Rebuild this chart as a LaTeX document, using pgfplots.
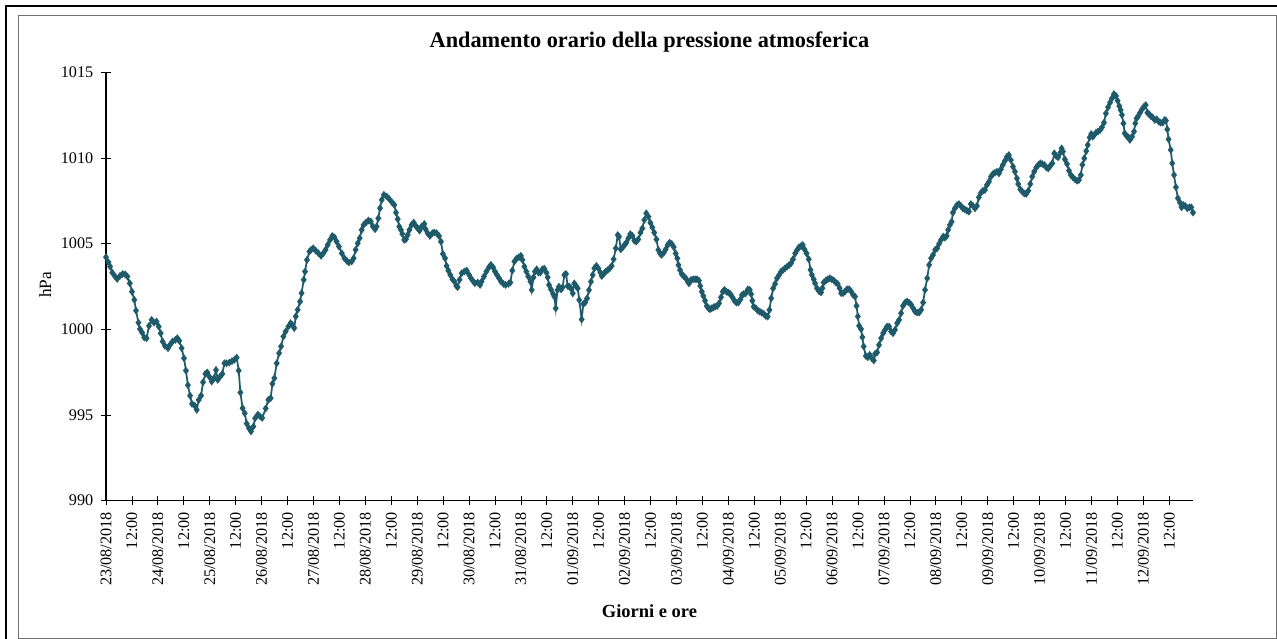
\documentclass[border=0pt]{standalone}
\usepackage{pgfplots}
\pgfplotsset{compat=1.18}
\usepackage{fontspec}
\setmainfont{Liberation Serif}
\definecolor{serie}{HTML}{1E5A6A}
\definecolor{cornice}{HTML}{707070}
\begin{document}
\begin{tikzpicture}
\path[use as bounding box] (0bp,0bp) rectangle (957.75bp,-479.25bp);
% frame
\draw[cornice, line width=0.75bp] (13.5bp,-11.25bp) -- (957.75bp,-11.25bp);
\draw[cornice, line width=0.75bp] (13.5bp,-11.25bp) -- (13.5bp,-478.7bp) -- (957.75bp,-478.7bp);
\draw[cornice, line width=0.75bp] (957bp,-11.25bp) -- (957bp,-478.7bp);
\draw[black, line width=1.8bp] (4.65bp,-479.25bp) -- (4.65bp,-4.65bp) -- (957.75bp,-4.65bp);
\begin{axis}[
  at={(79.5bp,-375.5bp)}, anchor=south west,
  scale only axis, width=815.25bp, height=321.3bp,
  xmin=0, xmax=503, ymin=990, ymax=1015,
  axis lines=left,
  axis line style={-, line width=0.8bp, black},
  xtick={0,12,...,492},
  xticklabels={23/08/2018,12:00,24/08/2018,12:00,25/08/2018,12:00,26/08/2018,12:00,27/08/2018,12:00,28/08/2018,12:00,29/08/2018,12:00,30/08/2018,12:00,31/08/2018,12:00,01/09/2018,12:00,02/09/2018,12:00,03/09/2018,12:00,04/09/2018,12:00,05/09/2018,12:00,06/09/2018,12:00,07/09/2018,12:00,08/09/2018,12:00,09/09/2018,12:00,10/09/2018,12:00,11/09/2018,12:00,12/09/2018,12:00},
  ytick={990,995,1000,1005,1010,1015},
  tick align=center, major tick length=6.75bp,
  tick style={line width=0.6bp, black},
  xticklabel style={rotate=90, anchor=east, inner sep=0pt, xshift=-5bp, font=\fontsize{12.2}{13}\selectfont},
  yticklabel style={anchor=east, inner sep=0pt, xshift=-6bp, font=\fontsize{12.2}{13}\selectfont},
  /pgf/number format/assume math mode=true,
  /pgf/number format/1000 sep={},
  clip=false,
]
\addplot[serie, line width=1.3bp, mark=diamond*, mark size=1.9bp, mark options={serie}] coordinates {
(0,1004.21)(1.1,1003.91)(1.9,1003.66)(2.9,1003.31)(4.2,1003.08)(5.2,1002.94)(6.5,1003.12)(7.7,1003.23)(8.9,1003.21)(9.9,1003.08)(11,1002.69)(12,1002.2)(13.1,1001.72)(13.9,1001.09)(15,1000.39)(15.7,1000.02)(16.7,999.81)(17.7,999.52)(18.8,999.48)(19.9,1000.2)(21.1,1000.55)(22.2,1000.39)(23.4,1000.45)(24.4,1000.16)(25.3,999.77)(26.2,999.29)(27.3,999.03)(28.7,998.9)(29.6,999.09)(30.8,999.29)(32.1,999.38)(33,999.48)(33.9,999.33)(35,998.9)(36.1,998.31)(37,997.59)(37.9,996.74)(38.9,996.13)(39.8,995.65)(41,995.55)(42,995.3)(42.9,995.88)(44,996.13)(44.9,996.91)(46,997.4)(46.9,997.48)(47.8,997.24)(48.9,996.95)(50,997.15)(50.9,997.63)(51.7,997.05)(52.8,997.24)(53.8,997.4)(54.8,998.02)(55.8,998.02)(57.1,998.06)(58.3,998.14)(59.4,998.22)(60.5,998.35)(61.4,997.59)(62.2,996.31)(63.2,995.4)(64.2,995.1)
(65.1,994.5)(66.2,994.23)(67.1,994.04)(68.2,994.33)(69,994.81)(70.3,995.03)(71.3,994.91)(72.3,994.83)(73.9,995.38)(75.1,995.88)(76.2,995.98)(77,996.82)(77.9,997.15)(79,998.02)(80.1,998.61)(81,999.0)(82.1,999.58)(83.1,999.87)(84.4,1000.16)(85.4,1000.36)(86.2,1000.26)(87.1,1000.07)(87.8,1000.75)(88.7,1001.14)(89.8,1001.62)(90.5,1002.11)(91.5,1002.89)(92.1,1003.37)(93,1004.05)(94.1,1004.54)(94.9,1004.64)(95.9,1004.73)(97,1004.6)(98.3,1004.44)(99.5,1004.29)(100.6,1004.44)(101.6,1004.64)(102.6,1004.93)(103.7,1005.22)(104.7,1005.45)(105.7,1005.37)(106.7,1005.12)(107.8,1004.83)(109.1,1004.44)(110.3,1004.15)(111.4,1004.0)(112.4,1003.9)(113.7,1003.96)(114.6,1004.15)(115.5,1004.64)(116.5,1005.02)(117.4,1005.32)(118.3,1005.8)(119.2,1006.09)(120.3,1006.23)(121.4,1006.35)(122.5,1006.29)(123.5,1006.0)(124.5,1005.84)(125.2,1006.0)(126,1006.48)(126.8,1007.07)(127.6,1007.55)(128.6,1007.85)
(129.9,1007.75)(131.1,1007.6)(132.4,1007.4)(133.4,1007.26)(134.2,1006.81)(135,1006.43)(135.7,1006.0)(136.5,1005.8)(137.1,1005.57)(138,1005.22)(138.8,1005.26)(139.6,1005.51)(140.4,1005.8)(141.4,1006.09)(142.4,1006.23)(143.3,1006.04)(144.2,1005.9)(145.1,1005.76)(146.1,1006.0)(147.3,1006.15)(147.9,1005.84)(148.8,1005.61)(149.9,1005.45)(151,1005.61)(151.9,1005.65)(153,1005.61)(154.1,1005.45)(155,1005.12)(155.9,1004.4)(156.9,1004.15)(157.6,1003.7)(158.4,1003.43)(159.3,1003.18)(160.3,1002.92)(161.2,1002.79)(162.1,1002.54)(162.7,1002.46)(163.6,1002.89)(164.6,1003.27)(165.8,1003.37)(166.9,1003.43)(168,1003.18)(168.9,1002.98)(170,1002.79)(170.7,1002.69)(172,1002.73)(173.1,1002.59)(173.8,1002.79)(174.9,1003.08)(176,1003.37)(177.2,1003.62)(178.1,1003.76)(179.1,1003.62)(180,1003.37)(180.9,1003.18)(181.9,1002.98)(182.8,1002.79)(183.9,1002.65)(184.9,1002.59)(186.2,1002.65)(187.1,1002.73)(188,1003.43)(189,1003.96)(190,1004.13)(191.1,1004.21)(192,1004.29)(192.7,1004.05)(193.6,1003.66)(194.5,1003.37)(195.4,1003.08)(196.4,1002.79)(197,1002.3)(197.8,1003.03)
(198.5,1003.37)(199.3,1003.5)(200.1,1003.31)(201,1003.31)(201.9,1003.5)(202.8,1003.54)(203.8,1003.31)(204.4,1003.03)(205,1002.59)(205.9,1002.33)(206.9,1002.06)(207.5,1001.91)(208.1,1001.23)(208.9,1002.29)(209.6,1002.49)(210.6,1002.33)(211.3,1002.45)(212.1,1003.17)(212.9,1003.23)(213.6,1002.53)(214.4,1002.49)(215.2,1002.39)(216,1002.1)(216.7,1002.68)(217.5,1002.53)(218.3,1002.39)(219,1001.71)(220.1,1000.58)(220.9,1001.48)(221.7,1001.56)(222.6,1001.81)(223.5,1002.29)(224.4,1002.78)(225.2,1003.17)(226,1003.56)(226.9,1003.7)(227.8,1003.56)(228.8,1003.31)(229.4,1003.11)(230.3,1003.23)(231.2,1003.37)(232.2,1003.46)(233.1,1003.56)(234,1003.7)(234.9,1004.09)(235.9,1004.73)(236.8,1005.5)(237.4,1005.41)(238.2,1004.67)(239.1,1004.78)(239.9,1004.92)(240.8,1005.06)(241.7,1005.31)(242.6,1005.56)(243.6,1005.45)(244.5,1005.17)(245.4,1005.12)(246.3,1005.25)(247.3,1005.64)(248.2,1005.89)(249.1,1006.38)(250,1006.77)(251,1006.57)(251.9,1006.22)(252.8,1005.95)(253.7,1005.64)(254.7,1005.25)(255.6,1004.63)(256.4,1004.43)(257.1,1004.34)(258.1,1004.47)
(259,1004.67)(259.9,1004.92)(260.8,1005.06)(261.8,1004.98)(262.7,1004.8)(263.6,1004.43)(264.4,1004.14)(264.9,1003.75)(265.6,1003.46)(266.4,1003.23)(267.3,1003.11)(268.3,1002.98)(269.2,1002.78)(269.8,1002.68)(270.7,1002.88)(271.7,1002.92)(272.6,1002.92)(273.5,1002.92)(274.4,1002.84)(275,1002.53)(275.7,1002.2)(276.4,1001.95)(277.2,1001.67)(278,1001.36)(278.8,1001.23)(279.5,1001.17)(280.3,1001.23)(281.1,1001.28)(281.8,1001.32)(282.8,1001.36)(283.7,1001.52)(284.6,1001.87)(285.4,1002.2)(286.2,1002.3)(287.1,1002.2)(288,1002.14)(288.9,1002.06)(289.9,1001.87)(290.8,1001.67)(291.7,1001.56)(292.6,1001.56)(293.6,1001.75)(294.3,1002.0)(295.1,1002.06)(296,1002.1)(297,1002.33)(297.9,1002.3)(298.5,1002.06)(299.1,1001.67)(299.7,1001.32)(300.7,1001.23)(301.6,1001.09)(302.5,1001.03)(303.4,1000.97)(304.4,1000.9)(305.3,1000.78)(306.2,1000.74)(307,1001.13)(307.8,1001.81)(308.7,1002.39)(309.6,1002.65)(310.5,1002.98)(311.5,1003.17)(312.4,1003.37)(313.3,1003.46)(314.2,1003.56)(315.2,1003.66)(316.1,1003.75)(317,1003.85)(317.9,1004.09)(318.9,1004.43)(319.8,1004.63)(320.7,1004.79)(321.6,1004.86)(322.4,1004.92)(323.2,1004.67)
(324.2,1004.43)(325.2,1004.09)(326,1003.47)(326.6,1003.18)(327.5,1002.92)(328.1,1002.69)(329,1002.4)(330,1002.21)(330.9,1002.15)(331.5,1002.4)(332.1,1002.73)(333.1,1002.85)(334,1002.92)(334.9,1002.98)(335.8,1002.92)(336.8,1002.85)(337.7,1002.73)(338.6,1002.65)(339.5,1002.4)(340.2,1002.11)(341.1,1002.11)(342,1002.21)(342.9,1002.34)(343.9,1002.34)(344.8,1002.21)(345.7,1002.01)(346.6,1001.91)(347.3,1001.37)(347.9,1000.75)(348.5,1000.2)(349.4,1000.01)(350,999.54)(350.6,999.0)(351.6,998.45)(352.5,998.37)(353.4,998.51)(354.3,998.32)(355.3,998.18)(355.9,998.57)(356.8,998.65)(357.7,999.09)(358.7,999.48)(359.6,999.77)(360.5,999.97)(361.4,1000.16)(362.4,1000.16)(363.3,999.87)(364.2,999.77)(365.1,999.97)(366.1,1000.36)(367,1000.55)(367.9,1000.94)(368.8,1001.37)(369.8,1001.56)(370.7,1001.62)(371.6,1001.56)(372.6,1001.43)(373.5,1001.23)(374.4,1001.04)(375.3,1000.98)(376.3,1000.98)(377.2,1001.14)(378.1,1001.56)(379,1002.3)(380,1002.98)(380.9,1003.76)(381.8,1004.15)(382.7,1004.34)(383.7,1004.64)(384.6,1004.73)(385.5,1004.99)(386.4,1005.22)(387.4,1005.41)
(388.2,1005.35)(389,1005.45)(389.7,1005.8)(390.5,1006.09)(391.3,1006.28)(391.9,1006.81)(392.8,1007.06)(393.8,1007.25)(394.7,1007.31)(395.6,1007.2)(396.5,1007.06)(397.4,1007.0)(398.4,1006.92)(399.3,1006.87)(400.2,1007.31)(401.2,1007.2)(402.1,1007.06)(403,1007.2)(403.9,1007.7)(404.9,1007.97)(405.8,1008.09)(406.7,1008.13)(407.6,1008.42)(408.6,1008.62)(409.5,1008.91)(410.4,1009.06)(411.3,1009.14)(412.3,1009.2)(413.2,1009.1)(414.1,1009.34)(415,1009.59)(416,1009.84)(416.9,1010.07)(417.8,1010.17)(418.7,1009.88)(419.7,1009.49)(420.6,1009.2)(421.5,1008.81)(422.1,1008.48)(423.1,1008.17)(424,1008.03)(424.9,1007.93)(425.8,1007.9)(426.8,1008.09)(427.7,1008.48)(428.6,1008.91)(429.5,1009.2)(430.5,1009.45)(431.4,1009.59)(432.3,1009.69)(433.2,1009.65)(434.2,1009.59)(435.1,1009.45)(436,1009.39)(436.9,1009.53)(437.9,1009.69)(438.8,1010.27)(439.7,1010.11)(440.6,1010.04)(441.6,1010.31)(442.2,1010.56)(442.8,1010.37)(443.7,1009.92)(444.7,1009.65)(445.6,1009.26)(446.5,1009.0)(447.4,1008.87)(448.4,1008.75)(449.3,1008.67)(450.2,1008.71)
(451.1,1009.0)(451.8,1009.6)(452.7,1009.98)(453.6,1010.4)(454.3,1010.76)(455.2,1011.2)(455.9,1011.4)(456.6,1011.24)(457.3,1011.34)(458.1,1011.48)(459,1011.54)(460,1011.63)(460.9,1011.79)(461.8,1012.06)(462.7,1012.6)(463.7,1012.96)(464.6,1013.23)(465.5,1013.48)(466.4,1013.73)(467.4,1013.62)(468.1,1013.34)(468.9,1013.03)(469.5,1012.8)(470.1,1012.51)(470.8,1012.02)(471.4,1011.44)(472.3,1011.28)(473.2,1011.2)(473.8,1011.05)(474.8,1011.24)(475.7,1011.54)(476.3,1012.02)(476.9,1012.31)(477.7,1012.45)(478.5,1012.64)(479.4,1012.84)(480.3,1012.99)(481.1,1013.09)(481.9,1012.64)(482.6,1012.57)(483.4,1012.45)(484.3,1012.37)(485.3,1012.22)(486.2,1012.26)(487.1,1012.12)(488,1012.06)(489,1012.06)(489.9,1012.22)(490.5,1012.18)(491.1,1011.67)(491.7,1011.09)(492.7,1010.47)(493.4,1009.69)(494.2,1009.01)(495.1,1008.29)(496,1007.65)(497,1007.39)(497.7,1007.12)(498.5,1007.26)(499.4,1007.2)(500.4,1007.06)(501.3,1007.12)(502.2,1007.12)(503,1006.81)
};
\end{axis}
\node[anchor=base, font=\bfseries\fontsize{16.8}{20}\selectfont, inner sep=0pt] at (487.1bp,-35.25bp) {Andamento orario della pressione atmosferica};
\node[anchor=base, font=\bfseries\fontsize{13.9}{16}\selectfont, inner sep=0pt] at (487.1bp,-462.75bp) {Giorni e ore};
\node[anchor=base, rotate=90, font=\fontsize{13}{15}\selectfont, inner sep=0pt] at (38.25bp,-213.75bp) {hPa};
\end{tikzpicture}
\end{document}
